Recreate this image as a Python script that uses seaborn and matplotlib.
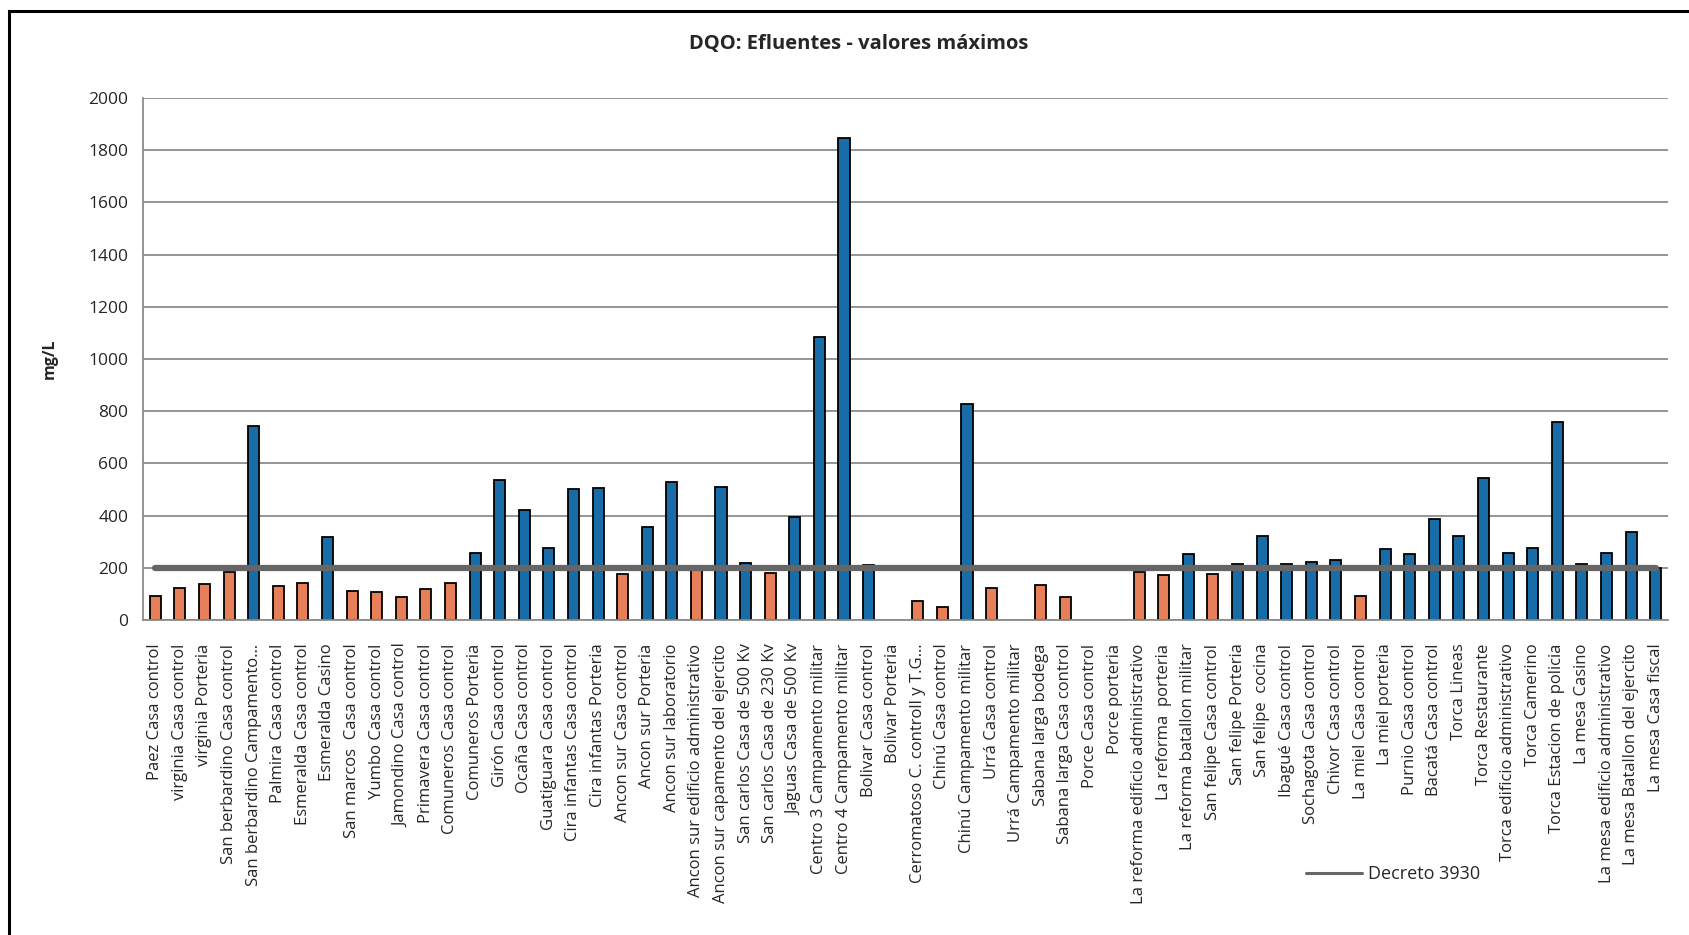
import matplotlib
matplotlib.use('Agg')
import matplotlib.pyplot as plt
from matplotlib.lines import Line2D
from matplotlib.patches import Rectangle
import seaborn as sns
import numpy as np
import pandas as pd

sns.set_style('white')
plt.rcParams['font.family'] = ['Open Sans', 'DejaVu Sans']

estaciones = [
    'Paez Casa control', 'virginia Casa control', 'virginia Porteria',
    'San berbardino Casa control', 'San berbardino Campamento…',
    'Palmira Casa control', 'Esmeralda Casa control', 'Esmeralda Casino',
    'San marcos  Casa control', 'Yumbo Casa control',
    'Jamondino Casa control', 'Primavera Casa control',
    'Comuneros Casa control', 'Comuneros Porteria', 'Girón Casa control',
    'Ocaña Casa control', 'Guatiguara Casa control',
    'Cira infantas Casa control', 'Cira infantas Porteria',
    'Ancon sur Casa control', 'Ancon sur Porteria', 'Ancon sur laboratorio',
    'Ancon sur edificio administrativo', 'Ancon sur capamento del ejercito',
    'San carlos Casa de 500 Kv', 'San carlos Casa de 230 Kv',
    'Jaguas Casa de 500 Kv', 'Centro 3 Campamento militar',
    'Centro 4 Campamento militar', 'Bolivar Casa control',
    'Bolivar Porteria', 'Cerromatoso C. controll y T.G…',
    'Chinú Casa control', 'Chinú Campamento militar', 'Urrá Casa control',
    'Urrá Campamento militar', 'Sabana larga bodega',
    'Sabana larga Casa control', 'Porce Casa control', 'Porce porteria',
    'La reforma edificio administrativo', 'La reforma  porteria',
    'La reforma batallon militar', 'San felipe Casa control',
    'San felipe Porteria', 'San felipe  cocina', 'Ibagué Casa control',
    'Sochagota Casa control', 'Chivor Casa control', 'La miel Casa control',
    'La miel porteria', 'Purnio Casa control', 'Bacatá Casa control',
    'Torca Lineas', 'Torca Restaurante', 'Torca edificio administrativo',
    'Torca Camerino', 'Torca Estacion de policia', 'La mesa Casino',
    'La mesa edificio administrativo', 'La mesa Batallon del ejercito',
    'La mesa Casa fiscal',
]

# DQO maximo (mg/L); NaN = sin dato
dqo_max = [
    92, 123, 137, 185, 745, 129, 140, 317, 110, 108,
    88, 119, 142, 258, 538, 423, 274, 501, 506, 178,
    356, 528, 195, 509, 218, 181, 394, 1086, 1845, 212,
    np.nan, 73, 50, 829, 123, np.nan, 135, 88, np.nan, np.nan,
    182, 174, 254, 178, 215, 323, 214, 223, 228, 92,
    272, 254, 388, 323, 544, 258, 277, 758, 214, 258,
    337, 201,
]

limite_decreto = 200
nombre_limite = 'Decreto 3930'

df = pd.DataFrame({'estacion': estaciones, 'dqo': dqo_max})
df['supera'] = np.where(df['dqo'] >= limite_decreto, 'supera', 'cumple')

fig = plt.figure(figsize=(16.9, 9.35), dpi=100)
ax = fig.add_axes([143 / 1690, 1 - 620 / 935, 1525 / 1690, 522 / 935])

sns.barplot(data=df, x='estacion', y='dqo', hue='supera',
            order=estaciones, hue_order=['cumple', 'supera'],
            palette={'cumple': '#FF7440', 'supera': '#0070C0'},
            dodge=False, width=0.45, errorbar=None, legend=False,
            edgecolor='black', linewidth=1.3, ax=ax)

ax.hlines(limite_decreto, 0, len(estaciones) - 1, color='#666666', lw=4.5,
          capstyle='round', zorder=5)

ax.set_xlim(-0.5, len(estaciones) - 0.5)
ax.set_ylim(0, 2000)
ax.set_yticks(range(0, 2001, 200))
ax.yaxis.grid(True, color='#8c8c8c', lw=1.3)
ax.set_axisbelow(True)
for s in ['top', 'right']:
    ax.spines[s].set_visible(False)
for s in ['left', 'bottom']:
    ax.spines[s].set_color('#8c8c8c')
    ax.spines[s].set_linewidth(1.3)
ax.tick_params(axis='y', direction='out', length=7, color='#8c8c8c',
               width=1.3, labelsize=12.5)
ax.tick_params(axis='x', length=0, pad=17, labelsize=12)
plt.setp(ax.get_xticklabels(), rotation=90)

ax.set_xlabel('')
ax.set_ylabel('mg/L', fontsize=11.5, fontweight='bold', labelpad=22)

fig.text(0.508, 1 - 44 / 935, 'DQO: Efluentes - valores máximos',
         ha='center', va='center', fontsize=14.5, fontweight='bold')

fig.legend(handles=[Line2D([0], [0], color='#666666', lw=2.2)],
           labels=[nombre_limite], loc='center left',
           bbox_to_anchor=(1306 / 1690, 1 - 874 / 935), frameon=False,
           handlelength=3.1, handletextpad=0.35, borderpad=0,
           borderaxespad=0, fontsize=13)

fig.patches.append(Rectangle((9 / 1690, -0.1), 1.2, 1.1 - 11 / 935,
                             transform=fig.transFigure, fill=False,
                             ec='black', lw=2.2))

fig.savefig('out.png', dpi=100)
plt.close('all')
